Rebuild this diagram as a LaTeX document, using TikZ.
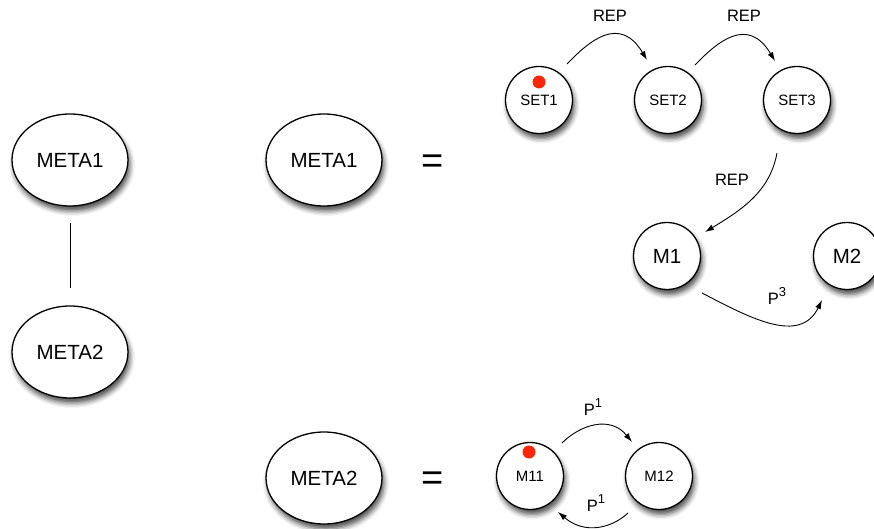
\documentclass[tikz,border=0pt]{standalone}
\usepackage{fontspec}
\setmainfont{Liberation Sans}
\usetikzlibrary{arrows.meta,shadows.blur,shapes.geometric}
\definecolor{dotred}{RGB}{250,40,10}
% raised exponent for the transition labels
\newcommand{\expo}[1]{\raisebox{0.5em}{\fontsize{13}{14}\selectfont #1}}
\begin{document}
\begin{tikzpicture}[x=1pt,y=-1pt,
  softshadow/.style={blur shadow={shadow xshift=2pt,shadow yshift=-5pt,shadow blur radius=5pt,shadow opacity=70}},
  meta/.style={ellipse, draw, line width=1.3pt, fill=white, minimum width=116pt,
    minimum height=92pt, inner sep=0pt, font=\fontsize{20.5}{24}\selectfont, softshadow},
  bigstate/.style={circle, draw, line width=1.3pt, fill=white, minimum size=67pt,
    inner sep=0pt, font=\fontsize{20.5}{24}\selectfont, softshadow},
  smallstate/.style={bigstate, font=\fontsize{15}{18}\selectfont},
  eqsign/.style={font=\fontsize{38}{40}\selectfont},
  lbl/.style={font=\fontsize{16.5}{20}\selectfont},
  link/.style={line width=0.9pt, -{Latex[length=9pt,width=6pt]}},
  token/.style={fill=dotred}]
\useasboundingbox (0,0) rectangle (874,529);

% hierarchy on the left
\node[meta] (lm1) at (70,160) {META1};
\node[meta] (lm2) at (70,352) {META2};
\coordinate (lt) at (70,223);
\coordinate (lb) at (70,288);
\draw[line width=0.9pt] (lt) -- (lb);

% META1 definition
\node[meta] (m1) at (324,160) {META1};
\node[eqsign] (eq1) at (433,164) {=};
\node[smallstate] (set1) at (539,100) {SET1};
\node[smallstate] (set2) at (668,100) {SET2};
\node[smallstate] (set3) at (797,100) {SET3};
\node[bigstate] (mm1) at (667,256) {M1};
\node[bigstate] (mm2) at (847,256) {M2};
\fill[token] (539,82) circle (6.5pt);

\coordinate (a1s) at (567,64);  \coordinate (a1e) at (647,60);
\coordinate (a2s) at (695,65);  \coordinate (a2e) at (775,61);
\coordinate (a3s) at (777,153); \coordinate (a3e) at (705,232);
\coordinate (a4s) at (702,293); \coordinate (a4e) at (822,300);
\draw[link] (a1s) .. controls (590,40) and (620,15) .. (a1e);
\draw[link] (a2s) .. controls (718,41) and (748,16) .. (a2e);
\draw[link] (a3s) .. controls (770,190) and (745,208) .. (a3e);
\draw[link] (a4s) .. controls (750,318) and (800,345) .. (a4e);
\node[lbl] (rep1) at (610,16) {REP};
\node[lbl] (rep2) at (744,16) {REP};
\node[lbl] (rep3) at (732,180) {REP};
\node[lbl] (p3) at (777,296) {P\expo{3}};

% META2 definition
\node[meta] (m2) at (324,478) {META2};
\node[eqsign] (eq2) at (433,481) {=};
\node[smallstate] (m11) at (530,476) {M11};
\node[smallstate] (m12) at (659,476) {M12};
\fill[token] (529,452) circle (6.5pt);

\coordinate (b1s) at (562,443); \coordinate (b1e) at (632,442);
\coordinate (b2s) at (628,513); \coordinate (b2e) at (558,512);
\draw[link] (b1s) .. controls (580,425) and (610,415) .. (b1e);
\draw[link] (b2s) .. controls (612,528) and (585,535) .. (b2e);
\node[lbl] (p1a) at (593,407) {P\expo{1}};
\node[lbl] (p1b) at (596,503) {P\expo{1}};
\end{tikzpicture}
\end{document}
